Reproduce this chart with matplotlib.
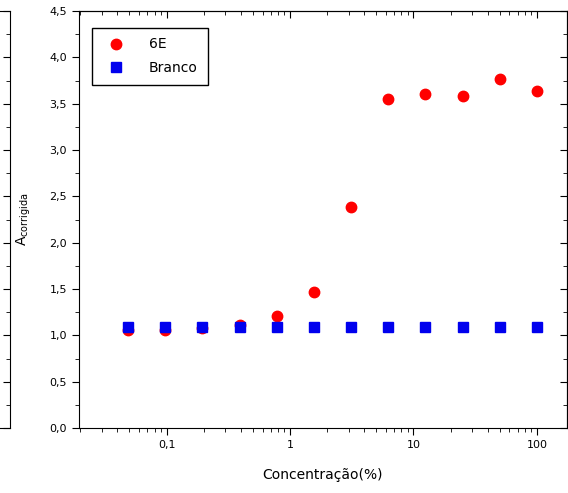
"""Absorbancia corrigida vs concentracao (6E e branco)."""
import matplotlib
matplotlib.use("Agg")
import matplotlib.pyplot as plt
from matplotlib.ticker import FixedLocator, FuncFormatter, LogLocator, MultipleLocator, NullFormatter

conc = [0.049, 0.098, 0.195, 0.39, 0.78, 1.56, 3.125, 6.25, 12.5, 25, 50, 100]
abs_6e = [1.06, 1.06, 1.08, 1.11, 1.21, 1.47, 2.39, 3.55, 3.60, 3.58, 3.77, 3.64]
abs_branco = [1.09, 1.09, 1.09, 1.09, 1.09, 1.09, 1.09, 1.09, 1.09, 1.09, 1.09, 1.09]

x_ticks = [0.1, 1, 10, 100]
x_labels = ["0,1", "1", "10", "100"]

plt.rcParams["font.family"] = ["DejaVu Sans"]

fig = plt.figure(figsize=(5.68, 4.93), dpi=100)

# edge of the neighbouring panel, cut off on the left
ax0 = fig.add_axes([-0.5, 0.1318, 0.5176, 0.8458])
ax0.set_ylim(0, 4.5)
ax0.set_xticks([])
ax0.yaxis.set_major_locator(MultipleLocator(0.5))
ax0.yaxis.set_minor_locator(MultipleLocator(0.25))
ax0.yaxis.tick_right()
ax0.tick_params(axis="y", which="both", direction="in", labelright=False)
ax0.tick_params(axis="y", which="major", length=5)
ax0.tick_params(axis="y", which="minor", length=3)

ax = fig.add_axes([0.139, 0.1318, 0.859, 0.8458])
ax.plot(conc, abs_6e, "o", color="#ff0000", markersize=7.5, label="6E", zorder=3)
ax.plot(conc, abs_branco, "s", color="#0000ee", markersize=6.5, label="Branco", zorder=4)

ax.set_xscale("log")
ax.set_xlim(0.0195, 175)
ax.set_ylim(0, 4.5)

comma = FuncFormatter(lambda v, p: f"{v:.1f}".replace(".", ","))
ax.yaxis.set_major_locator(MultipleLocator(0.5))
ax.yaxis.set_minor_locator(MultipleLocator(0.25))
ax.yaxis.set_major_formatter(comma)
ax.xaxis.set_major_locator(FixedLocator(x_ticks))
ax.xaxis.set_major_formatter(FuncFormatter(lambda v, p: x_labels[x_ticks.index(v)] if v in x_ticks else ""))
ax.xaxis.set_minor_locator(LogLocator(base=10, subs=range(2, 10)))
ax.xaxis.set_minor_formatter(NullFormatter())

ax.tick_params(which="both", direction="out", labelsize=8)
ax.tick_params(which="major", length=5)
ax.tick_params(which="minor", length=3)

# mirror ticks on top and right, pointing inwards
top = ax.secondary_xaxis("top")
top.xaxis.set_major_locator(FixedLocator(x_ticks))
top.xaxis.set_minor_locator(LogLocator(base=10, subs=range(2, 10)))
top.tick_params(which="both", direction="in", labeltop=False)
top.tick_params(which="major", length=5)
top.tick_params(which="minor", length=3)
right = ax.secondary_yaxis("right")
right.yaxis.set_major_locator(MultipleLocator(0.5))
right.yaxis.set_minor_locator(MultipleLocator(0.25))
right.tick_params(which="both", direction="in", labelright=False)
right.tick_params(which="major", length=5)
right.tick_params(which="minor", length=3)

ax.set_xlabel("Concentração(%)", fontsize=10, labelpad=13)
ax.set_ylabel(r"A$_{\mathrm{corrigida}}$", fontsize=10, labelpad=12)

leg = ax.legend(loc="upper left", bbox_to_anchor=(0.027, 0.96), borderaxespad=0,
                fontsize=10, fancybox=False, edgecolor="black", framealpha=1,
                handletextpad=1.4, borderpad=0.7, labelspacing=0.7)
leg.get_frame().set_linewidth(1.0)

fig.savefig("out.png", dpi=100)
